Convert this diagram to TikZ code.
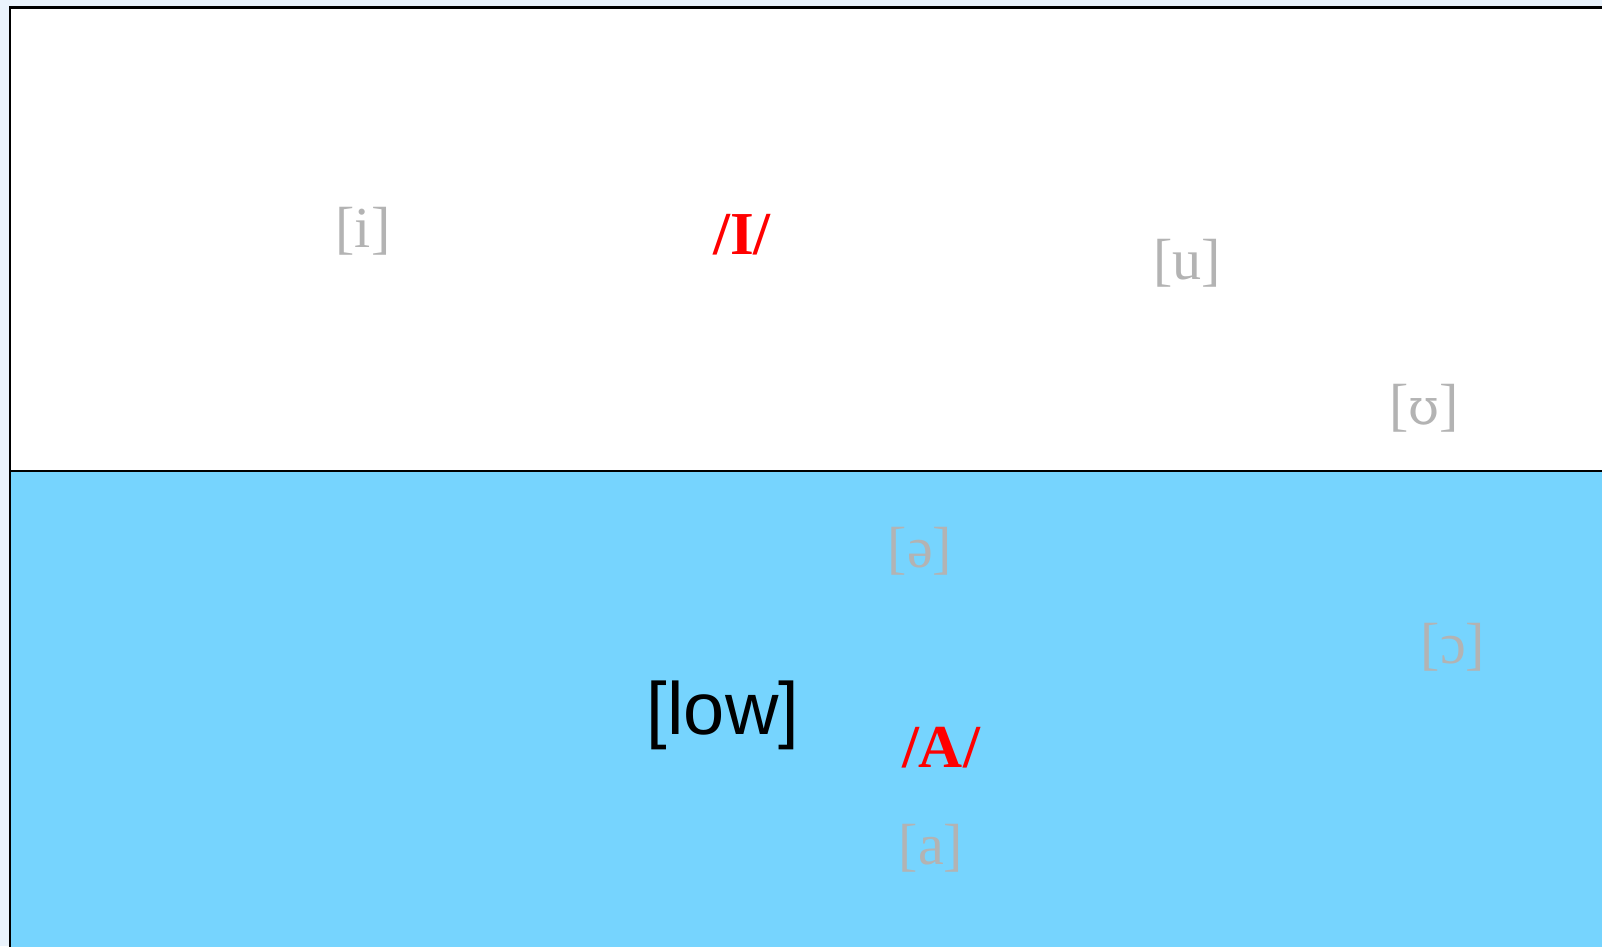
\documentclass[tikz,border=0pt]{standalone}
\usepackage{fontspec}
\setmainfont{Liberation Serif}
\newfontfamily\labelsans{Liberation Sans}
\newfontfamily\ipaserif{DejaVu Serif}
\definecolor{pagebg}{RGB}{234,243,252}
\definecolor{lowblue}{RGB}{118,212,254}
\definecolor{phonegray}{RGB}{179,179,179}

\begin{document}
\begin{tikzpicture}[
  x=1pt,y=-1pt,
  phone/.style={text=phonegray,font=\fontsize{58}{62}\selectfont,inner sep=0pt},
  phoneme/.style={text=red,font=\fontsize{61}{65}\selectfont\bfseries,inner sep=0pt},
  region/.style={font=\labelsans\fontsize{74}{78}\selectfont,inner sep=0pt},
  edge/.style={draw=black,line width=2.4pt}
]
  \fill[pagebg] (0,0) rectangle (1602,946);
  \useasboundingbox (0,0) rectangle (1602,946);

  % high and low halves
  \fill[white] (10,7.5) rectangle (1604,471);
  \fill[lowblue] (10,471) rectangle (1604,948);
  \draw[edge] (1610,7.5) -- (10,7.5) -- (10,950);
  \draw[edge] (10,471) -- (1610,471);

  % phones
  \node[phone] (i-front) at (363,231) {[i]};
  \node[phone] (u-back) at (1187,263) {[u]};
  \node[phone] (upsilon) at (1424,408) {[{\ipaserif\fontsize{50}{54}\selectfont ʊ}]};
  \node[phone] (schwa) at (920,551) {[ə]};
  \node[phone] (open-o) at (1453,647) {[ɔ]};
  \node[phone] (a-low) at (931,848) {[a]};

  % phonemes
  \node[phoneme] (I-high) at (742,235) {/I/};
  \node[phoneme] (A-low) at (941,748) {/A/};

  \node[region] (low-label) at (723,715) {[low]};
\end{tikzpicture}
\end{document}
